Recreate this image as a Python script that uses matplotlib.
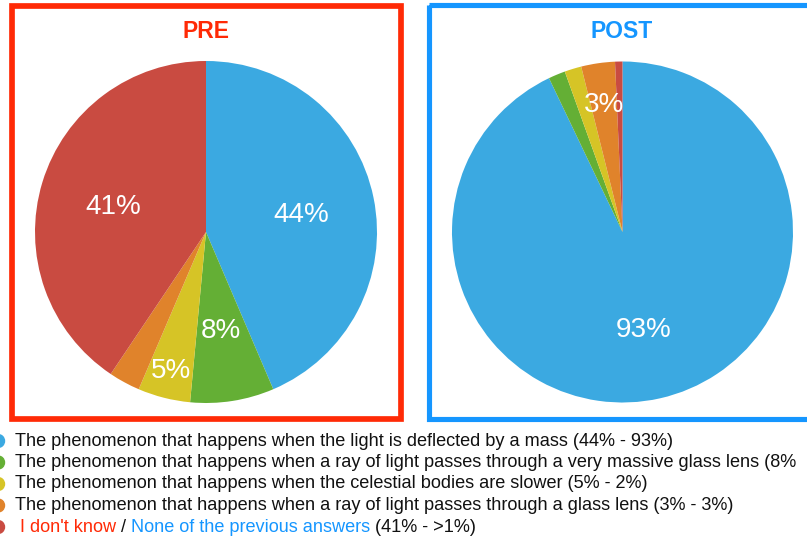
import matplotlib
matplotlib.use("Agg")
import matplotlib.pyplot as plt
from matplotlib.patches import Rectangle, Circle

plt.rcParams['font.family'] = ['Liberation Sans', 'DejaVu Sans']

# ---- data ----
categories = [
    "The phenomenon that happens when the light is deflected by a mass (44% - 93%)",
    "The phenomenon that happens when a ray of light passes through a very massive glass lens (8%",
    "The phenomenon that happens when the celestial bodies are slower (5% - 2%)",
    "The phenomenon that happens when a ray of light passes through a glass lens (3% - 3%)",
]
pre_values = [44, 8, 5, 3, 41]
post_values = [93, 1.6, 1.6, 3.2, 0.7]
pre_labels = ["44%", "8%", "5%", "", "41%"]
post_labels = ["93%", "", "", "3%", ""]
colors = ["#3BA9E1", "#64AF35", "#D6C426", "#E0832B", "#C94B41"]
titles = ["PRE", "POST"]

RED = "#FF2A06"
BLUE = "#1596FF"

W, H = 807, 544
fig = plt.figure(figsize=(W / 100, H / 100), dpi=100)


def add_pie(cx, cy, r, values, labels, far):
    ax = fig.add_axes([(cx - r) / W, (H - cy - r) / H, 2 * r / W, 2 * r / H])
    it = iter(labels)
    wedges, texts, autotexts = ax.pie(
        values, colors=colors, startangle=90, counterclock=False,
        autopct=lambda p: next(it), pctdistance=0.57,
        textprops=dict(color="white", fontsize=20))
    for i, t in enumerate(autotexts):
        t.set_va("center_baseline")
        if i in far:
            x, y = t.get_position()
            s = far[i] / 0.57
            t.set_position((x * s, y * s))
    ax.set_xlim(-1, 1)
    ax.set_ylim(-1, 1)
    ax.set_aspect("equal")
    ax.axis("off")
    return ax


add_pie(206, 232, 171, pre_values, pre_labels, {2: 0.82})
add_pie(622.5, 232, 170.5, post_values, post_labels, {3: 0.77})

ov = fig.add_axes([0, 0, 1, 1])
ov.set_xlim(0, W)
ov.set_ylim(H, 0)
ov.axis("off")
ov.patch.set_alpha(0)

ov.add_patch(Rectangle((12.2, 5.5), 388.3, 413.2, fill=False, edgecolor=RED, lw=4.1))
ov.add_patch(Rectangle((429.2, 5.0), 390, 413.5, fill=False, edgecolor=BLUE, lw=3.7))
ov.text(206, 31, titles[0], color=RED, fontsize=16.5, fontweight="bold", ha="center", va="center")
ov.text(622, 31, titles[1], color=BLUE, fontsize=16.5, fontweight="bold", ha="center", va="center")

ys = [441, 462.5, 484, 505.5, 527]
fs = 13.1
for i, txt in enumerate(categories):
    ov.add_patch(Circle((-2, ys[i]), 6.5, color=colors[i], clip_on=False))
    ov.text(15, ys[i], txt, fontsize=fs, ha="left", va="center", color="#111111")
ov.add_patch(Circle((-2, ys[4]), 6.5, color=colors[4], clip_on=False))

fig.canvas.draw()
r = fig.canvas.get_renderer()
parts = [(" I don't know", RED), (" / ", "#111111"), ("None of the previous answers", BLUE), (" (41% - >1%)", "#111111")]
x = 15
for s, c in parts:
    t = ov.text(x, ys[4], s, fontsize=fs, ha="left", va="center", color=c)
    bb = t.get_window_extent(renderer=r)
    x += bb.width

fig.savefig("out.png", dpi=100)
